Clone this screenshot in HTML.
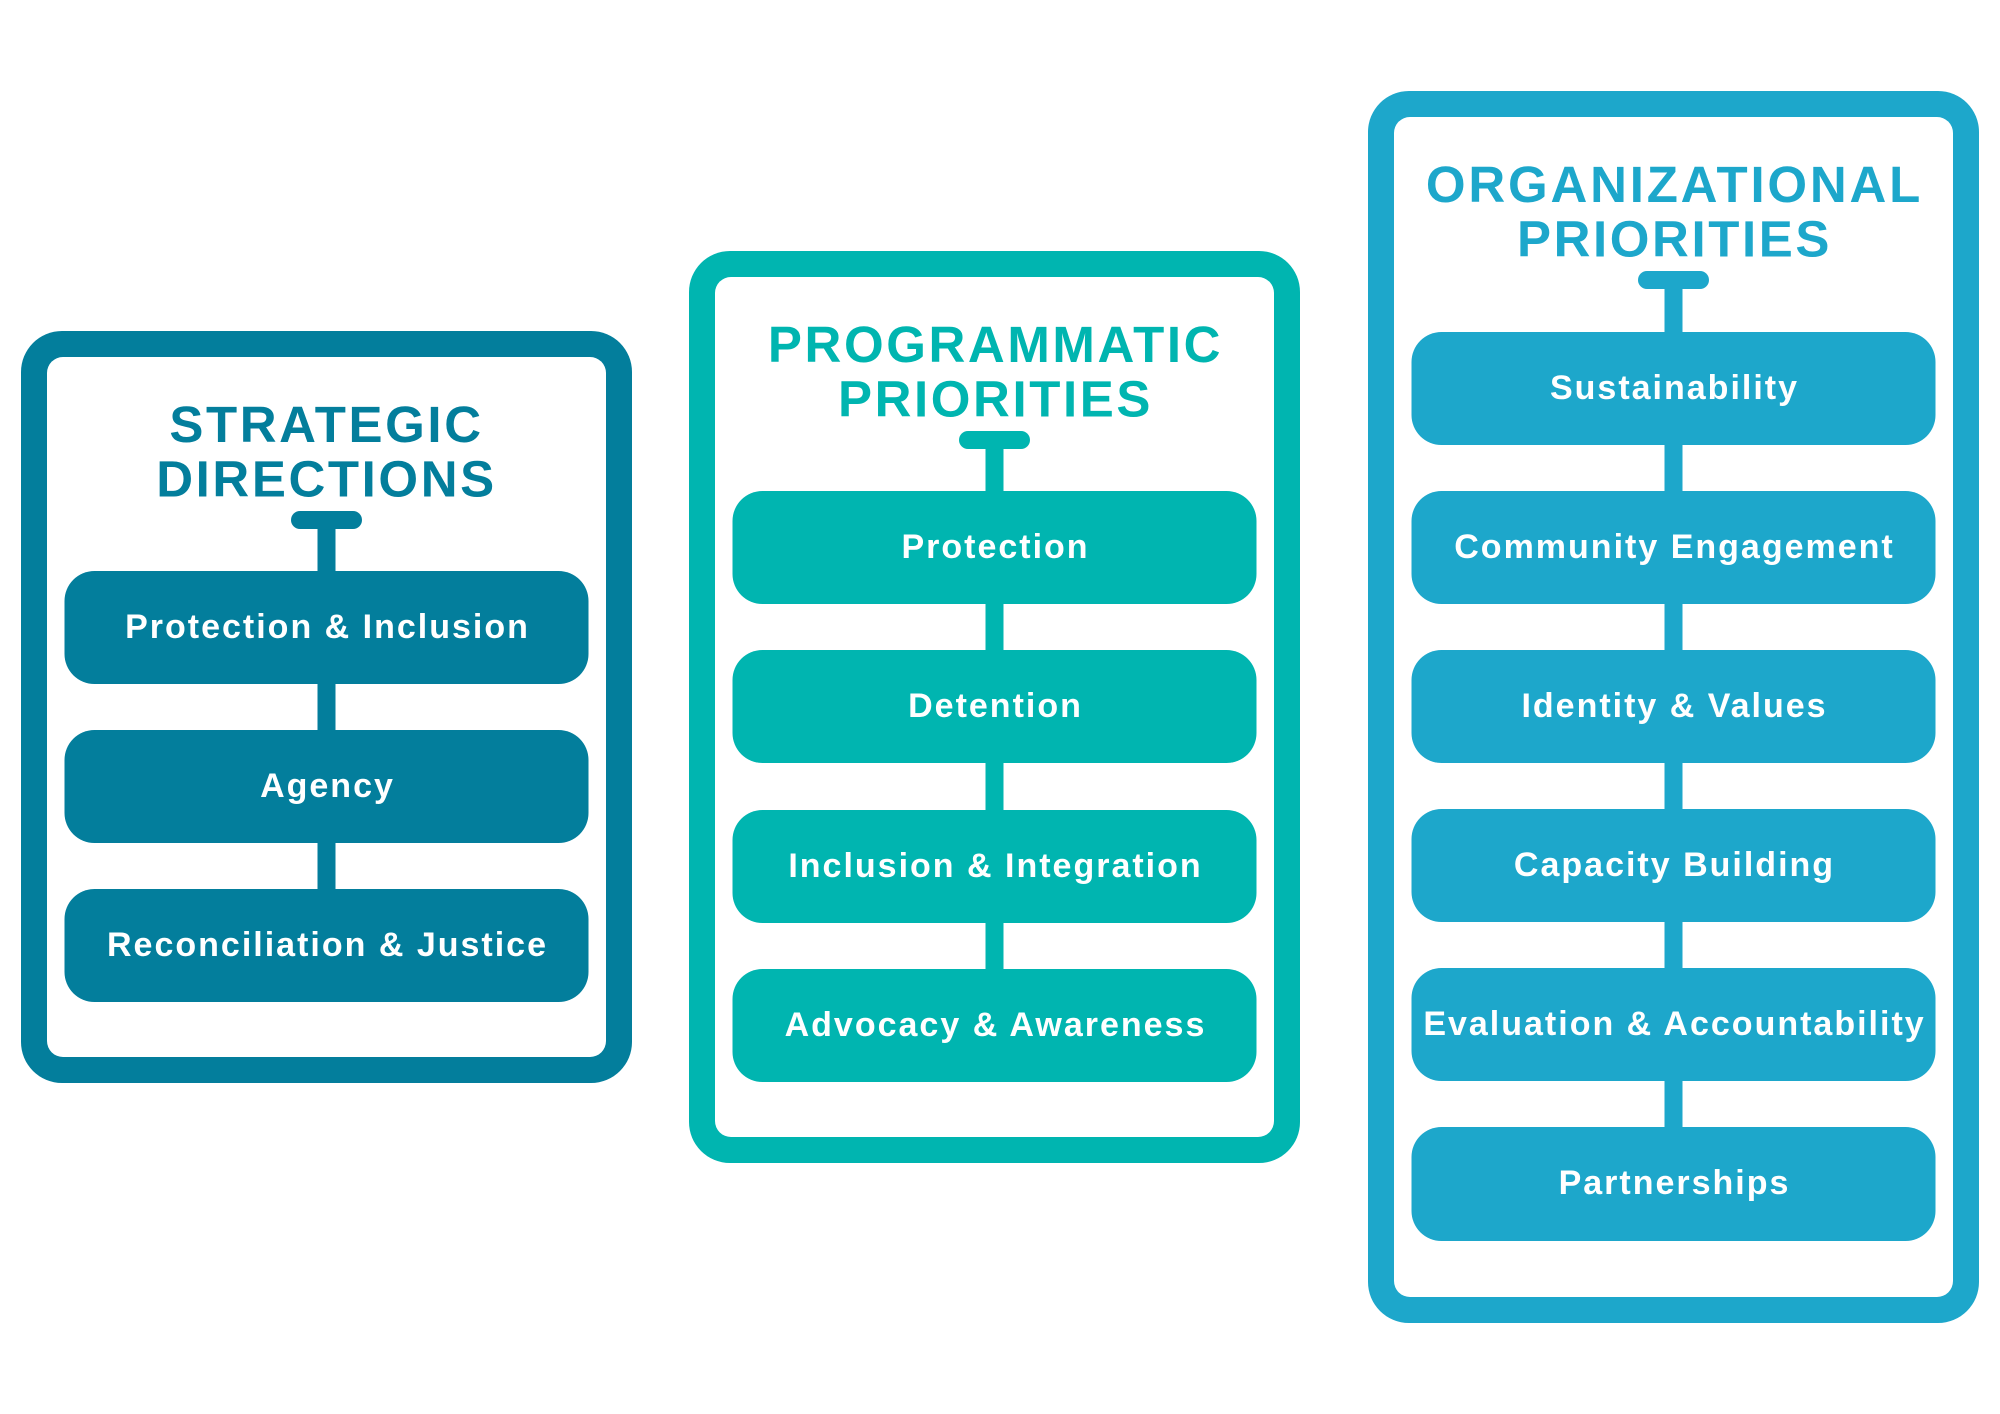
<!DOCTYPE html>
<html>
<head>
<meta charset="utf-8">
<style>
  html, body { margin:0; padding:0; background:#ffffff; }
  body { width:2000px; height:1414px; overflow:hidden; }
  svg { display:block; }
  .t { font-family:"Liberation Sans", Arial, sans-serif; font-weight:bold; }
</style>
</head>
<body>
<svg width="2000" height="1414" viewBox="0 0 2000 1414" xmlns="http://www.w3.org/2000/svg">
  <rect x="0" y="0" width="2000" height="1414" fill="#ffffff"/>

  <!-- ============ LEFT PANEL : STRATEGIC DIRECTIONS ============ -->
  <g>
    <rect x="21" y="331" width="611" height="752" rx="41" fill="#037E9C"/>
    <rect x="47" y="357" width="559" height="700" rx="16" fill="#ffffff"/>
    <text class="t" x="326.5" y="442" font-size="51" letter-spacing="2.6" text-anchor="middle" fill="#037E9C">STRATEGIC</text>
    <text class="t" x="326.5" y="496.5" font-size="51" letter-spacing="2.6" text-anchor="middle" fill="#037E9C">DIRECTIONS</text>
    <rect x="291" y="511" width="71" height="18" rx="9" fill="#037E9C"/>
    <rect x="317.5" y="521" width="18" height="370" fill="#037E9C"/>
    <rect x="64.5" y="571" width="524" height="113" rx="30" fill="#037E9C"/>
    <rect x="64.5" y="730" width="524" height="113" rx="30" fill="#037E9C"/>
    <rect x="64.5" y="889" width="524" height="113" rx="30" fill="#037E9C"/>
    <text class="t" x="327.5" y="638" font-size="34" letter-spacing="2" text-anchor="middle" fill="#ffffff">Protection &amp; Inclusion</text>
    <text class="t" x="327.5" y="797" font-size="34" letter-spacing="2" text-anchor="middle" fill="#ffffff">Agency</text>
    <text class="t" x="327.5" y="956" font-size="34" letter-spacing="2" text-anchor="middle" fill="#ffffff">Reconciliation &amp; Justice</text>
  </g>

  <!-- ============ MIDDLE PANEL : PROGRAMMATIC PRIORITIES ============ -->
  <g>
    <rect x="689" y="251" width="611" height="912" rx="41" fill="#00B5B0"/>
    <rect x="715" y="277" width="559" height="860" rx="16" fill="#ffffff"/>
    <text class="t" x="995.5" y="362" font-size="51" letter-spacing="2.6" text-anchor="middle" fill="#00B5B0">PROGRAMMATIC</text>
    <text class="t" x="995.5" y="416.5" font-size="51" letter-spacing="2.6" text-anchor="middle" fill="#00B5B0">PRIORITIES</text>
    <rect x="959" y="431" width="71" height="18" rx="9" fill="#00B5B0"/>
    <rect x="985.5" y="441" width="18" height="530" fill="#00B5B0"/>
    <rect x="732.5" y="491" width="524" height="113" rx="30" fill="#00B5B0"/>
    <rect x="732.5" y="650" width="524" height="113" rx="30" fill="#00B5B0"/>
    <rect x="732.5" y="810" width="524" height="113" rx="30" fill="#00B5B0"/>
    <rect x="732.5" y="969" width="524" height="113" rx="30" fill="#00B5B0"/>
    <text class="t" x="995.5" y="558" font-size="34" letter-spacing="2" text-anchor="middle" fill="#ffffff">Protection</text>
    <text class="t" x="995.5" y="717" font-size="34" letter-spacing="2" text-anchor="middle" fill="#ffffff">Detention</text>
    <text class="t" x="995.5" y="877" font-size="34" letter-spacing="2" text-anchor="middle" fill="#ffffff">Inclusion &amp; Integration</text>
    <text class="t" x="995.5" y="1036" font-size="34" letter-spacing="2" text-anchor="middle" fill="#ffffff">Advocacy &amp; Awareness</text>
  </g>

  <!-- ============ RIGHT PANEL : ORGANIZATIONAL PRIORITIES ============ -->
  <g>
    <rect x="1368" y="91" width="611" height="1232" rx="41" fill="#1DA7CB"/>
    <rect x="1394" y="117" width="559" height="1180" rx="16" fill="#ffffff"/>
    <text class="t" x="1674.5" y="202" font-size="51" letter-spacing="2.8" text-anchor="middle" fill="#1DA7CB">ORGANIZATIONAL</text>
    <text class="t" x="1674.5" y="256.5" font-size="51" letter-spacing="2.6" text-anchor="middle" fill="#1DA7CB">PRIORITIES</text>
    <rect x="1638" y="271" width="71" height="18" rx="9" fill="#1DA7CB"/>
    <rect x="1664.5" y="281" width="18" height="850" fill="#1DA7CB"/>
    <rect x="1411.5" y="332" width="524" height="113" rx="30" fill="#1DA7CB"/>
    <rect x="1411.5" y="491" width="524" height="113" rx="30" fill="#1DA7CB"/>
    <rect x="1411.5" y="650" width="524" height="113" rx="30" fill="#1DA7CB"/>
    <rect x="1411.5" y="809" width="524" height="113" rx="30" fill="#1DA7CB"/>
    <rect x="1411.5" y="968" width="524" height="113" rx="30" fill="#1DA7CB"/>
    <rect x="1411.5" y="1127" width="524" height="114" rx="30" fill="#1DA7CB"/>
    <text class="t" x="1674.5" y="399" font-size="34" letter-spacing="2" text-anchor="middle" fill="#ffffff">Sustainability</text>
    <text class="t" x="1674.5" y="558" font-size="34" letter-spacing="2" text-anchor="middle" fill="#ffffff">Community Engagement</text>
    <text class="t" x="1674.5" y="717" font-size="34" letter-spacing="2" text-anchor="middle" fill="#ffffff">Identity &amp; Values</text>
    <text class="t" x="1674.5" y="876" font-size="34" letter-spacing="2" text-anchor="middle" fill="#ffffff">Capacity Building</text>
    <text class="t" x="1674.5" y="1035" font-size="34" letter-spacing="2" text-anchor="middle" fill="#ffffff">Evaluation &amp; Accountability</text>
    <text class="t" x="1674.5" y="1194" font-size="34" letter-spacing="2" text-anchor="middle" fill="#ffffff">Partnerships</text>
  </g>
</svg>
</body>
</html>
